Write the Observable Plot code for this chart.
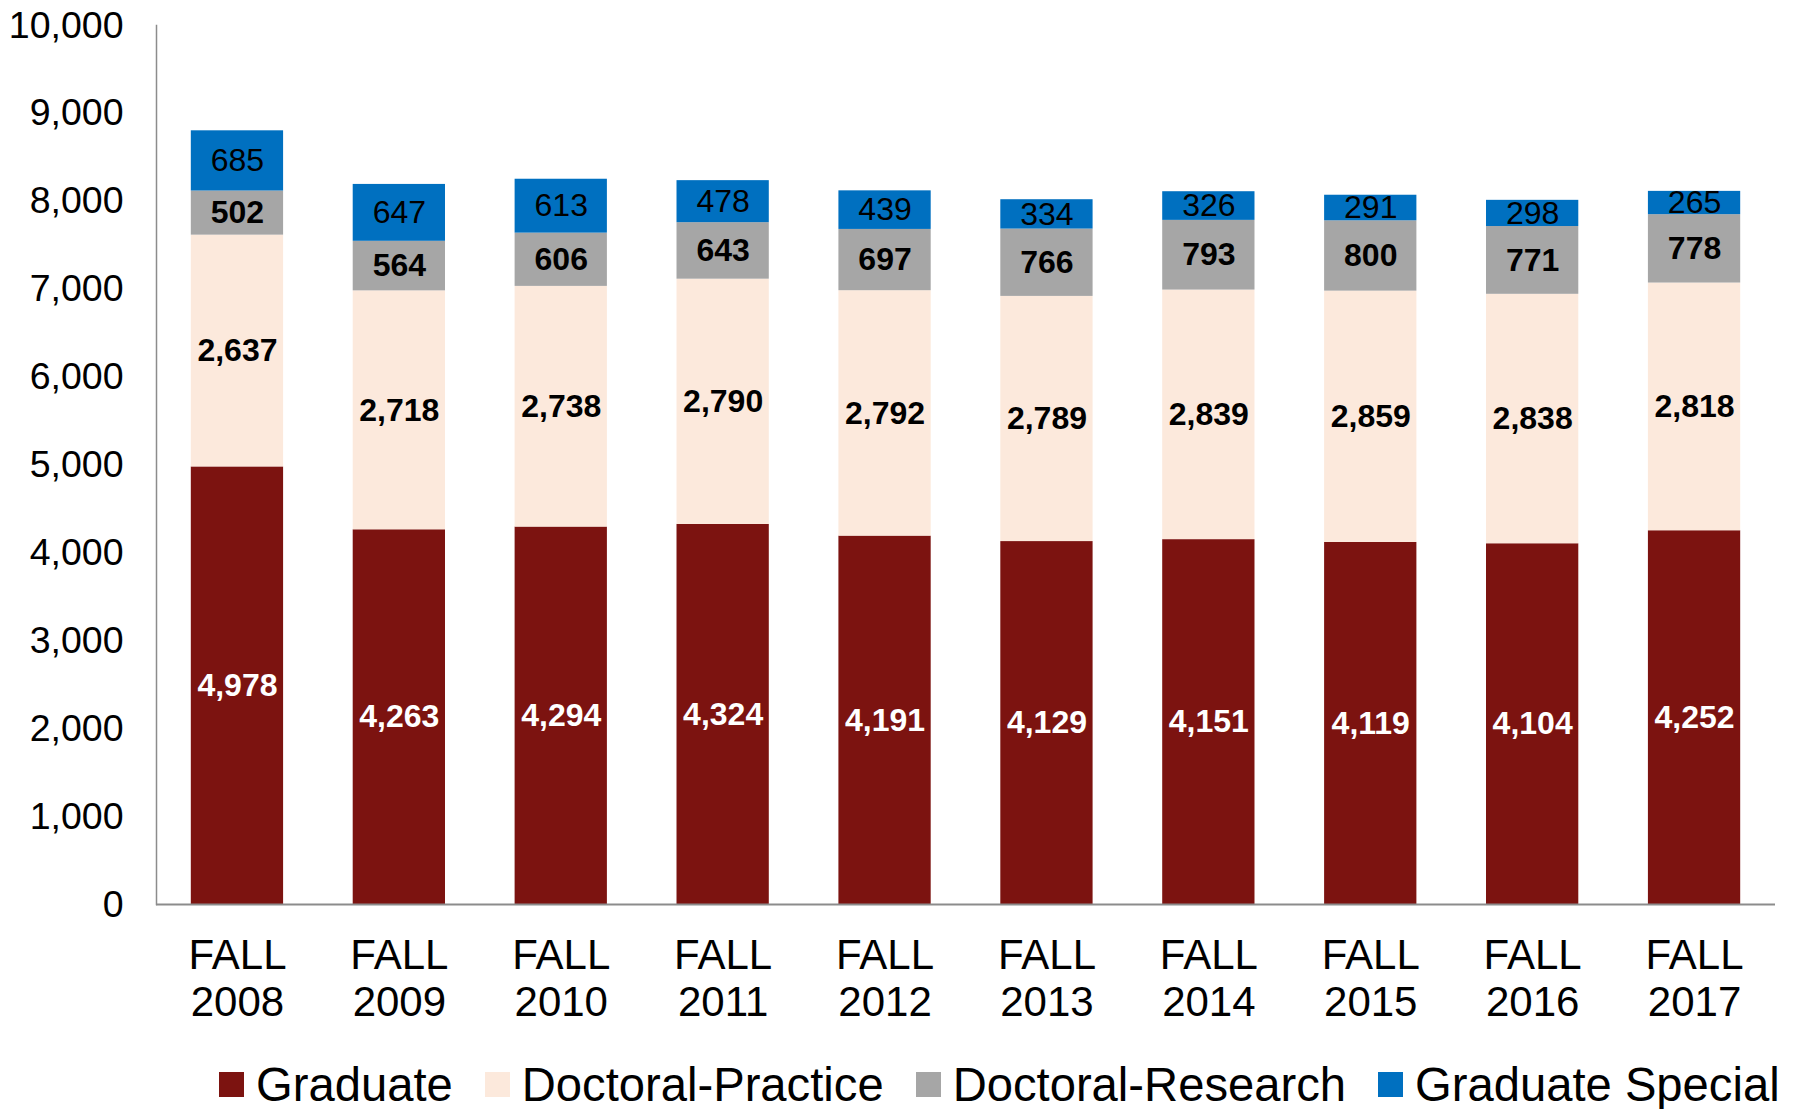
<!DOCTYPE html>
<html>
<head>
<meta charset="utf-8">
<script src="https://cdn.jsdelivr.net/npm/d3@7"></script>
<script src="https://cdn.jsdelivr.net/npm/@observablehq/plot@0.6"></script>
<style>
  html, body { margin: 0; padding: 0; background: white; overflow: hidden; }
  #chart svg { display: block; }
  #legend {
    height: 69px; box-sizing: border-box; padding-top: 20px; padding-left: 219px;
    display: flex; align-items: center; font-family: "Liberation Sans", Arial, sans-serif;
    font-size: 47.2px; color: #000; white-space: nowrap;
  }
  .item { display: flex; align-items: center; margin-right: 32px; }
  .sw { width: 25px; height: 25px; margin-right: 12px; flex: none; }
</style>
</head>
<body>
<div id="chart"></div>
<div id="legend"></div>
<script>
const years = ["2008","2009","2010","2011","2012","2013","2014","2015","2016","2017"];
const seriesNames = ["Graduate","Doctoral-Practice","Doctoral-Research","Graduate Special"];
const graduate = [4978,4263,4294,4324,4191,4129,4151,4119,4104,4252];
const doctoralPractice = [2637,2718,2738,2790,2792,2789,2839,2859,2838,2818];
const doctoralResearch = [502,564,606,643,697,766,793,800,771,778];
const graduateSpecial = [685,647,613,478,439,334,326,291,298,265];
const colors = ["#7C1310","#FCE9DC","#A6A6A6","#0070C0"];
const yTicks = [0,1000,2000,3000,4000,5000,6000,7000,8000,9000,10000];

const seriesValues = [graduate, doctoralPractice, doctoralResearch, graduateSpecial];
const rows = [];
years.forEach((yr, i) => {
  let base = 0;
  seriesNames.forEach((s, k) => {
    const v = seriesValues[k][i];
    rows.push({year: yr, series: s, value: v, y1: base, y2: base + v, mid: base + v / 2});
    base += v;
  });
});
const fmt = d3.format(",");

const plot = Plot.plot({
  width: 1801,
  height: 1040,
  marginTop: 25,
  marginBottom: 136,
  marginLeft: 156,
  marginRight: 26,
  style: {fontFamily: "'Liberation Sans', Arial, sans-serif", background: "white", color: "#000"},
  x: {domain: years, paddingInner: 0.43, paddingOuter: 0.215, round: false, label: null},
  y: {domain: [0, 10000], label: null},
  color: {domain: seriesNames, range: colors},
  marks: [
    Plot.barY(rows, {x: "year", y1: "y1", y2: "y2", fill: "series"}),
    Plot.frame({anchor: "left", stroke: "#8c8c8c", strokeWidth: 1.5}),
    Plot.ruleY([0], {stroke: "#8c8c8c", strokeWidth: 2}),
    Plot.axisY({ticks: yTicks, tickSize: 0, tickPadding: 33, fontSize: 37.5, tickFormat: fmt, label: null}),
    Plot.axisX({tickSize: 0, tickPadding: 30, fontSize: 42, lineHeight: 1.14, tickFormat: d => "FALL\n" + d, label: null}),
    Plot.text(rows.filter(d => d.series === "Graduate"), {x: "year", y: "mid", text: d => fmt(d.value), fill: "white", fontWeight: "bold", fontSize: 32}),
    Plot.text(rows.filter(d => d.series === "Doctoral-Practice" || d.series === "Doctoral-Research"), {x: "year", y: "mid", text: d => fmt(d.value), fill: "black", fontWeight: "bold", fontSize: 32}),
    Plot.text(rows.filter(d => d.series === "Graduate Special"), {x: "year", y: "mid", text: d => fmt(d.value), fill: "black", fontSize: 32})
  ]
});
document.getElementById("chart").appendChild(plot);

const legend = document.getElementById("legend");
seriesNames.forEach((s, k) => {
  const it = document.createElement("div");
  it.className = "item";
  const sw = document.createElement("div");
  sw.className = "sw";
  sw.style.background = colors[k];
  const t = document.createElement("span");
  t.textContent = s;
  it.appendChild(sw); it.appendChild(t);
  legend.appendChild(it);
});
</script>
</body>
</html>
